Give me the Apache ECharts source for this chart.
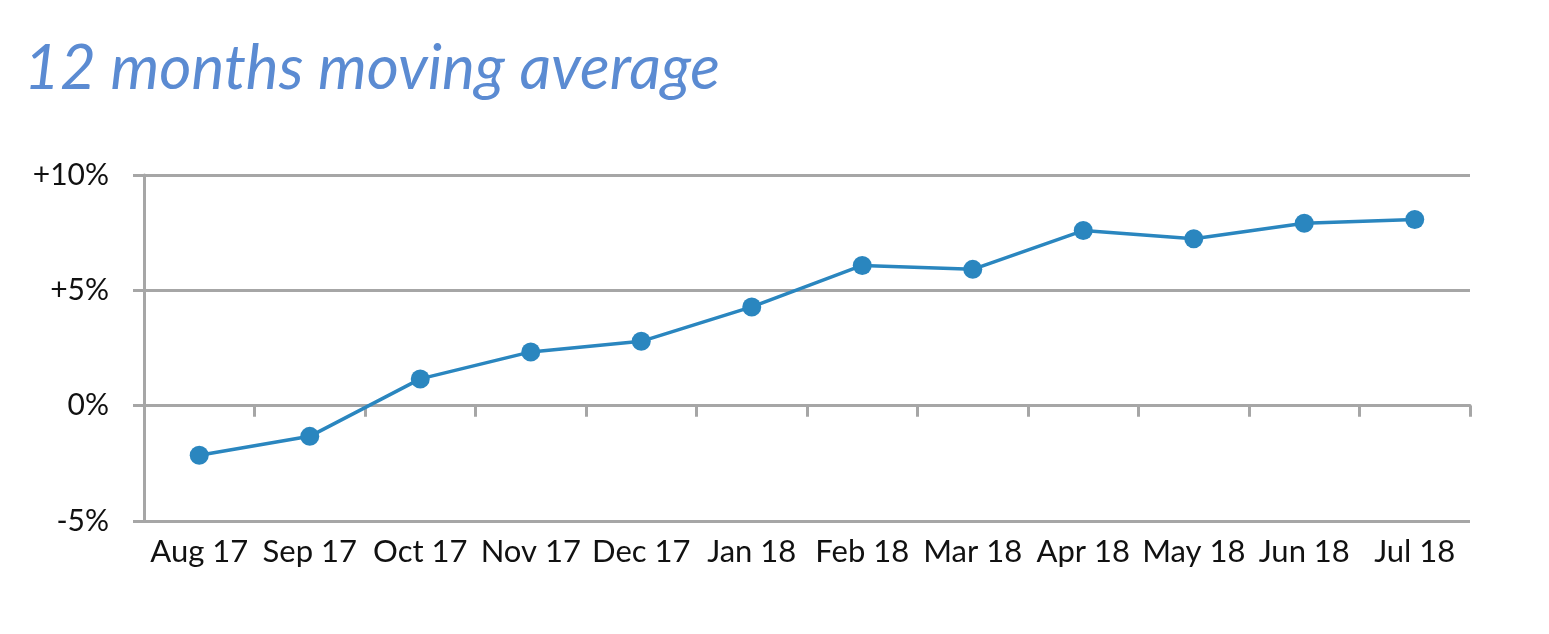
<!DOCTYPE html>
<html>
<head>
<meta charset="utf-8">
<script src="https://cdn.jsdelivr.net/npm/echarts@6/dist/echarts.min.js"></script>
<style>
html,body{margin:0;padding:0;background:#fff;}
#chart{width:1549px;height:634px;}
</style>
</head>
<body>
<div id="chart"></div>
<script>
const categories = ['Aug 17','Sep 17','Oct 17','Nov 17','Dec 17','Jan 18','Feb 18','Mar 18','Apr 18','May 18','Jun 18','Jul 18'];
const movingAverage = [-2.15, -1.33, 1.16, 2.33, 2.79, 4.28, 6.08, 5.91, 7.59, 7.24, 7.91, 8.07];
const yTicks = { min: -5, max: 10, interval: 5 };
const titleText = '12 months moving average';

const gray = '#A6A6A6';
const fontFam = 'Lato, "Open Sans", sans-serif';

const chart = echarts.init(document.getElementById('chart'), null, { renderer: 'canvas' });
chart.setOption({
  animation: false,
  backgroundColor: '#ffffff',
  title: {
    text: titleText,
    left: 19,
    top: 33,
    textStyle: { color: '#5B8BD2', fontSize: 62, fontStyle: 'italic', fontWeight: 'normal', fontFamily: fontFam }
  },
  grid: { left: 144, right: 79, top: 175, bottom: 113, containLabel: false },
  xAxis: [
    {
      type: 'category',
      data: categories,
      position: 'bottom',
      boundaryGap: true,
      axisLine: { show: true, onZero: true, lineStyle: { color: gray, width: 3 } },
      axisTick: { show: true, length: 11, lineStyle: { color: gray, width: 3 } },
      axisLabel: { show: false },
      splitLine: { show: false }
    },
    {
      type: 'category',
      data: categories,
      position: 'bottom',
      boundaryGap: true,
      axisLine: { show: false, onZero: false },
      axisTick: { show: false },
      axisLabel: { show: true, interval: 0, margin: 15, color: '#111', fontSize: 31, fontFamily: fontFam },
      splitLine: { show: false }
    }
  ],
  yAxis: {
    type: 'value',
    min: yTicks.min,
    max: yTicks.max,
    interval: yTicks.interval,
    axisLine: { show: true, lineStyle: { color: gray, width: 3 } },
    axisTick: { show: true, length: 11, lineStyle: { color: gray, width: 3 } },
    axisLabel: {
      margin: 35,
      color: '#111',
      fontSize: 30,
      fontFamily: fontFam,
      formatter: v => (v > 0 ? '+' + v + '%' : v + '%')
    },
    splitLine: { show: true, lineStyle: { color: gray, width: 3 } }
  },
  series: [{
    type: 'line',
    xAxisIndex: 0,
    data: movingAverage,
    symbol: 'circle',
    symbolSize: 19,
    lineStyle: { color: '#2A86BF', width: 3.5 },
    itemStyle: { color: '#2A86BF' },
    z: 5
  }]
});
</script>
</body>
</html>
